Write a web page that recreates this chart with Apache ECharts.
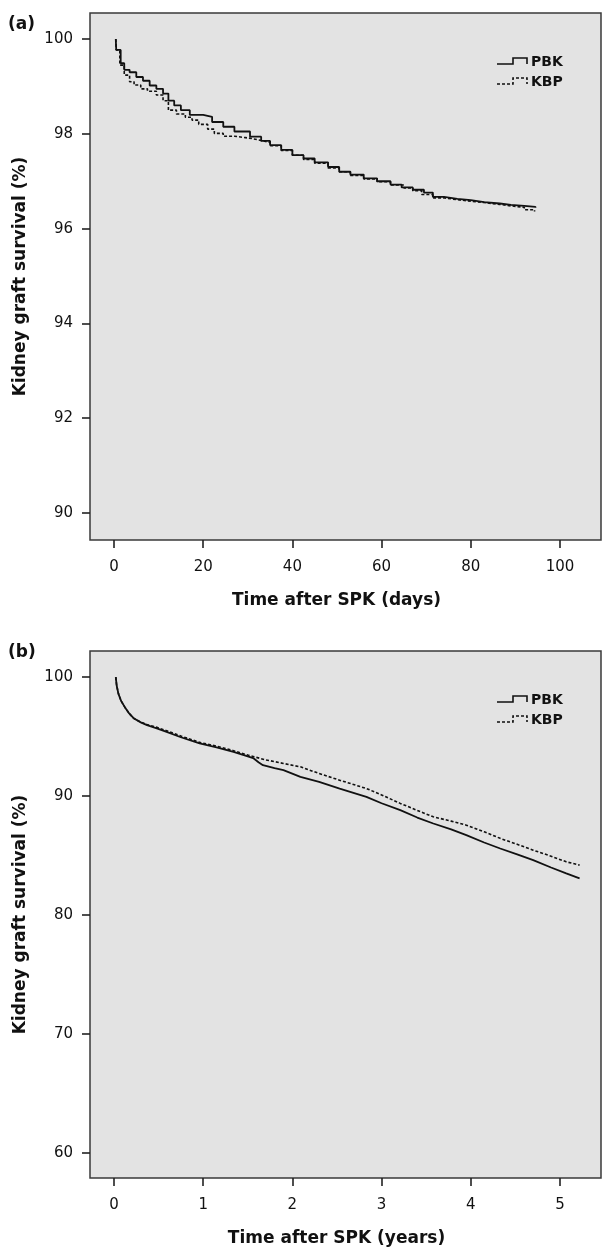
<!DOCTYPE html>
<html>
<head>
<meta charset="utf-8">
<script src="https://cdn.jsdelivr.net/npm/echarts@6/dist/echarts.min.js"></script>
<style>
html,body{margin:0;padding:0;background:#fff;}
#chart{width:604px;height:1249px;}
</style>
</head>
<body>
<div id="chart"></div>
<script>
// ---- Data ----
var seriesNames = ['PBK', 'KBP'];
var panelLabels = ['(a)', '(b)'];
var xTitles = ['Time after SPK (days)', 'Time after SPK (years)'];
var yTitle = 'Kidney graft survival (%)';

var xTicksA = [0, 20, 40, 60, 80, 100];
var yTicksA = [90, 92, 94, 96, 98, 100];
var xTicksB = [0, 1, 2, 3, 4, 5];
var yTicksB = [60, 70, 80, 90, 100];

// Panel (a): days vs survival (%), step curves
var pbkDays = [
  [0.4,100],[0.5,99.77],[1.5,99.49],[2.3,99.35],[3.5,99.3],[5,99.2],[6.5,99.12],[8,99.02],
  [9.5,98.95],[11,98.85],[12.2,98.7],[13.5,98.6],[15,98.5],[17,98.4],[20,98.36],[22,98.25],
  [24.5,98.15],[27,98.05],[30.5,97.94],[33,97.85],[35,97.76],[37.5,97.66],[40,97.55],
  [42.5,97.48],[45,97.4],[48,97.3],[50.5,97.2],[53,97.14],[56,97.06],[59,97.0],[62,96.93],
  [64.5,96.87],[67,96.82],[69.5,96.76],[71.5,96.67],[74,96.63],[77,96.6],[80,96.56],
  [83,96.53],[86.5,96.5],[89,96.48],[92,96.46],[94.5,96.44]
];
var kbpDays = [
  [0.4,100],[0.5,99.77],[1.3,99.45],[2.3,99.24],[3.5,99.1],[4.5,99.03],[6,98.95],[7.5,98.9],
  [9.5,98.82],[11,98.7],[12.2,98.5],[14,98.42],[16,98.35],[17.5,98.29],[19,98.2],[21,98.1],
  [22.5,98.01],[24.5,97.95],[27,97.92],[29.5,97.9],[31,97.86],[33,97.82],[35,97.75],
  [37.5,97.65],[40,97.55],[42.5,97.46],[45,97.38],[48,97.28],[50.5,97.2],[53,97.12],
  [56,97.05],[59,96.99],[62,96.92],[65,96.86],[67,96.8],[69,96.72],[71.5,96.65],[74,96.61],
  [77,96.58],[80,96.55],[83,96.51],[86.5,96.48],[89,96.45],[92,96.4],[94.3,96.36]
];

// Panel (b): years vs survival (%)
var pbkYears = [
  [0.02,100],[0.03,99.3],[0.05,98.6],[0.08,98.0],[0.12,97.5],[0.17,96.95],[0.22,96.55],
  [0.3,96.2],[0.37,95.97],[0.48,95.7],[0.59,95.4],[0.75,94.95],[0.96,94.43],[1.15,94.1],
  [1.34,93.72],[1.5,93.35],[1.56,93.2],[1.62,92.85],[1.67,92.6],[1.8,92.35],[1.9,92.18],
  [2.09,91.62],[2.3,91.2],[2.53,90.64],[2.83,89.94],[3.0,89.4],[3.21,88.82],[3.4,88.2],
  [3.58,87.7],[3.78,87.2],[3.95,86.72],[4.15,86.1],[4.33,85.6],[4.52,85.1],[4.7,84.62],
  [4.9,84.0],[5.07,83.5],[5.22,83.08]
];
var kbpYears = [
  [0.02,100],[0.03,99.3],[0.05,98.6],[0.08,98.0],[0.12,97.5],[0.17,96.95],[0.22,96.55],
  [0.3,96.22],[0.37,96.02],[0.48,95.78],[0.59,95.5],[0.75,95.05],[0.96,94.52],[1.15,94.2],
  [1.34,93.82],[1.5,93.45],[1.56,93.33],[1.7,93.05],[1.9,92.75],[2.09,92.46],[2.3,91.9],
  [2.53,91.34],[2.83,90.64],[3.0,90.1],[3.21,89.39],[3.4,88.8],[3.58,88.26],[3.78,87.9],
  [3.95,87.56],[4.15,87.0],[4.33,86.45],[4.52,85.95],[4.7,85.46],[4.9,84.95],[5.07,84.48],
  [5.22,84.2]
];

// ---- Chart ----
var FONT = 'DejaVu Sans';
var ink = '#111';
var chart = echarts.init(document.getElementById('chart'), null, {renderer: 'canvas'});

function xAxis(gi, min, max, ticks, title) {
  return {
    type: 'value', gridIndex: gi, min: min, max: max, position: 'bottom',
    axisLine: {show: false, onZero: false},
    axisTick: {show: true, inside: false, length: 8, customValues: ticks, lineStyle: {color: '#222', width: 1.6}},
    axisLabel: {show: true, customValues: ticks, margin: 20, color: ink, fontFamily: FONT, fontSize: 15},
    splitLine: {show: false},
    name: title, nameLocation: 'middle', nameGap: 52,
    nameTextStyle: {color: ink, fontFamily: FONT, fontSize: 17, fontWeight: 'bold', padding: [0, 18, 0, 0]}
  };
}
function yAxis(gi, min, max, ticks) {
  return {
    type: 'value', gridIndex: gi, min: min, max: max, position: 'left',
    axisLine: {show: false, onZero: false},
    axisTick: {show: true, inside: false, length: 8, customValues: ticks, lineStyle: {color: '#222', width: 1.6}},
    axisLabel: {show: true, customValues: ticks, margin: 17, color: ink, fontFamily: FONT, fontSize: 15},
    splitLine: {show: false},
    name: yTitle, nameLocation: 'middle', nameGap: 61, nameRotate: 90,
    nameTextStyle: {color: ink, fontFamily: FONT, fontSize: 17, fontWeight: 'bold'}
  };
}

var solid = {color: ink, width: 1.8, type: 'solid'};
var dashed = {color: ink, width: 1.6, type: [3, 2]};

function legendGraphic(top) {
  var x0 = 497, x1 = 513, x2 = 527;
  var items = [];
  [[0, solid], [20, dashed]].forEach(function (d, i) {
    var yl = top + d[0] + 2, yh = top + d[0] - 4;
    items.push({
      type: 'polyline',
      shape: {points: [[x0, yl], [x1, yl], [x1, yh], [x2, yh], [x2, yl]]},
      style: {stroke: ink, lineWidth: 1.6, fill: null, lineDash: i ? [3, 2] : null}
    });
    items.push({
      type: 'text', x: 531, y: top + d[0],
      style: {text: seriesNames[i], fill: ink, font: 'bold 14px ' + FONT, verticalAlign: 'middle', align: 'left'}
    });
  });
  return items;
}

var graphics = [
  {type: 'text', x: 8, y: 25, style: {text: panelLabels[0], fill: ink, font: 'bold 17px ' + FONT, verticalAlign: 'middle'}},
  {type: 'text', x: 8, y: 653, style: {text: panelLabels[1], fill: ink, font: 'bold 17px ' + FONT, verticalAlign: 'middle'}}
].concat(legendGraphic(62)).concat(legendGraphic(700));

chart.setOption({
  animation: false,
  backgroundColor: '#ffffff',
  grid: [
    {left: 90, top: 13, width: 511, height: 527, show: true, backgroundColor: '#e3e3e3', borderColor: '#3a3a3a', borderWidth: 1.5},
    {left: 90, top: 651, width: 511, height: 527, show: true, backgroundColor: '#e3e3e3', borderColor: '#3a3a3a', borderWidth: 1.5}
  ],
  xAxis: [
    xAxis(0, -5.38, 109.2, xTicksA, xTitles[0]),
    xAxis(1, -0.269, 5.46, xTicksB, xTitles[1])
  ],
  yAxis: [
    yAxis(0, 89.43, 100.55, yTicksA),
    yAxis(1, 57.9, 102.2, yTicksB)
  ],
  graphic: graphics,
  series: [
    {name: seriesNames[0], type: 'line', xAxisIndex: 0, yAxisIndex: 0, step: 'end', data: pbkDays, showSymbol: false, lineStyle: solid, z: 3},
    {name: seriesNames[1], type: 'line', xAxisIndex: 0, yAxisIndex: 0, step: 'end', data: kbpDays, showSymbol: false, lineStyle: dashed, z: 2},
    {name: seriesNames[0], type: 'line', xAxisIndex: 1, yAxisIndex: 1, data: pbkYears, showSymbol: false, lineStyle: solid, z: 3},
    {name: seriesNames[1], type: 'line', xAxisIndex: 1, yAxisIndex: 1, data: kbpYears, showSymbol: false, lineStyle: dashed, z: 2}
  ]
});
</script>
</body>
</html>
